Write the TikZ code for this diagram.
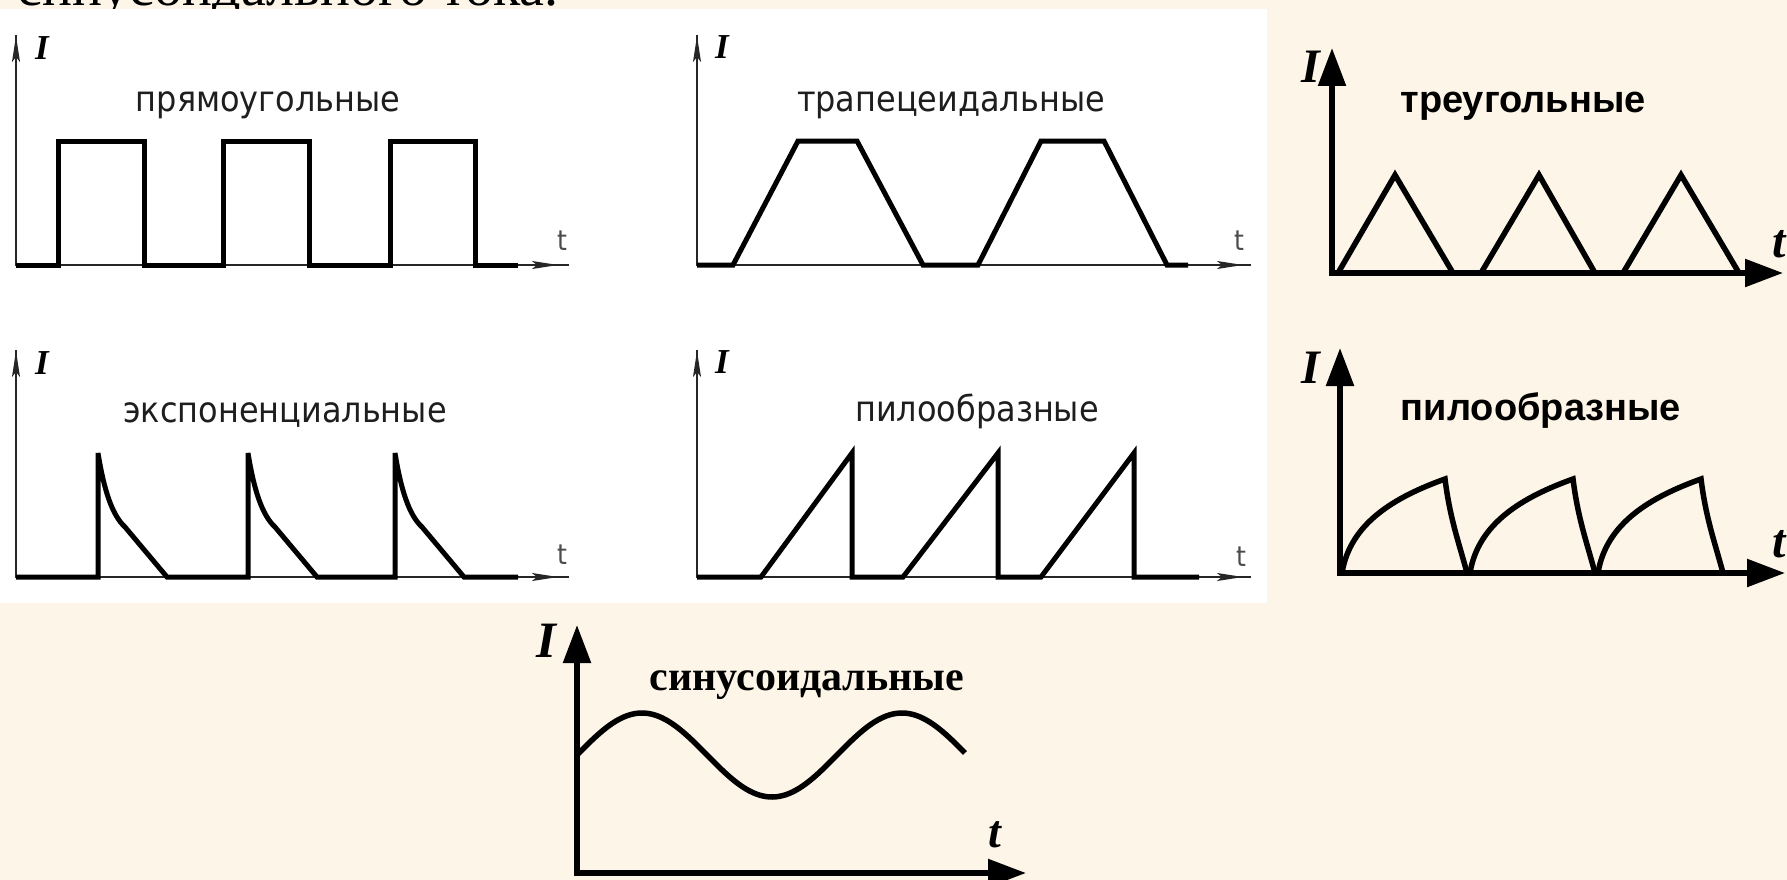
\documentclass[tikz,border=0pt]{standalone}
\usepackage{fontspec}
\setmainfont{Liberation Serif}
\newfontfamily\lsans[FakeStretch=0.9]{DejaVu Sans}
\newfontfamily\rsans{Liberation Sans}
\usetikzlibrary{arrows.meta}
\definecolor{bgcream}{RGB}{253,245,231}
\definecolor{labelgray}{RGB}{30,30,30}
\newcommand{\fsz}[1]{\fontsize{#1}{#1}\selectfont}
\begin{document}
\begin{tikzpicture}[x=1pt,y=-1pt,
  thinaxis/.style={line width=1.6pt,black!85},
  thinarrow/.style={thinaxis,arrows={-Stealth[length=26pt,width=8pt,inset=5pt]}},
  thickwave/.style={line width=5pt,black,line join=miter,line cap=butt},
  raxis/.style={line width=5.5pt,black,line join=miter,arrows={Triangle[length=38pt,width=27pt]-Triangle[length=38pt,width=27pt]}},
  rwave/.style={line width=5.5pt,black,line join=miter,line cap=butt},
  ltitle/.style={font=\lsans\fsz{35.5},text=labelgray,anchor=base,inner sep=0pt},
  lI/.style={font=\bfseries\itshape\fsz{35},anchor=base,inner sep=0pt},
  lt/.style={font=\lsans\fsz{28},text=black!70,anchor=base,inner sep=0pt},
  rtitle/.style={font=\rsans\bfseries\fsz{38},anchor=base,inner sep=0pt},
  rI/.style={font=\bfseries\itshape\fsz{48},anchor=base,inner sep=0pt},
]
\useasboundingbox (0,0) rectangle (1787,880);
\clip (0,0) rectangle (1787,880);
\fill[bgcream] (0,0) rectangle (1787,880);

% cut-off line of text at the very top
\node[font=\fsz{56},anchor=base west,inner sep=0pt] (toptext) at (17,6) {синусоидального тока.};

% white panel with four small plots
\fill[white] (0,9) rectangle (1267,603);

% ---- panel 1: rectangular
\draw[thinaxis] (16,35) -- (16,265) -- (569,265);
\draw[thinarrow] (16,110) -- (16,36);
\draw[thinarrow] (500,265) -- (558,265);
\draw[thickwave] (16,265) -- (58,265) -- (58,141) -- (144,141) -- (144,265) -- (223,265) -- (223,141) -- (309,141) -- (309,265) -- (390,265) -- (390,141) -- (475,141) -- (475,265) -- (518,265);
\node[lI] (i1) at (42,60) {I};
\node[lt] (t1) at (562,250) {t};
\node[ltitle] (n1) at (268,112) {прямоугольные};

% ---- panel 2: trapezoidal
\draw[thinaxis] (697,35) -- (697,265) -- (1251,265);
\draw[thinarrow] (697,110) -- (697,36);
\draw[thinarrow] (1180,265) -- (1243,265);
\draw[thickwave] (697,265) -- (733,265) -- (798,141) -- (857,141) -- (923,265) -- (978,265) -- (1041,141) -- (1104,141) -- (1167,265) -- (1188,265);
\node[lI] (i2) at (722,59) {I};
\node[lt] (t2) at (1239,250) {t};
\node[ltitle] (n2) at (951,112) {трапецеидальные};

% ---- panel 3: exponential
\draw[thinaxis] (16,350) -- (16,577) -- (569,577);
\draw[thinarrow] (16,425) -- (16,351);
\draw[thinarrow] (500,577) -- (558,577);
\draw[thickwave] (16,577) -- (98,577) -- ++(0,-124) .. controls +(6,37) and +(-13,-12) .. ++(27,74) -- ++(42,50)
  -- (248,577) -- ++(0,-124) .. controls +(6,37) and +(-13,-12) .. ++(27,74) -- ++(42,50)
  -- (395,577) -- ++(0,-124) .. controls +(6,37) and +(-13,-12) .. ++(27,74) -- ++(42,50)
  -- (518,577);
\node[lI] (i3) at (42,374) {I};
\node[lt] (t3) at (562,564) {t};
\node[ltitle] (n3) at (285,422) {экспоненциальные};

% ---- panel 4: sawtooth
\draw[thinaxis] (697,350) -- (697,577) -- (1251,577);
\draw[thinarrow] (697,425) -- (697,351);
\draw[thinarrow] (1180,577) -- (1243,577);
\draw[thickwave] (697,577) -- (761,577) -- (852,453) -- (852,577) -- (903,577) -- (998,453) -- (998,577) -- (1041,577) -- (1134,453) -- (1134,577) -- (1199,577);
\node[lI] (i4) at (722,373) {I};
\node[lt] (t4) at (1241,566) {t};
\node[ltitle] (n4) at (977,421) {пилообразные};

% ---- right top: triangles
\draw[raxis] (1332,48) -- (1332,273) -- (1783,273);
\draw[rwave] (1338,273) -- (1395,175) -- (1453,273);
\draw[rwave] (1481,273) -- (1539,175) -- (1595,273);
\draw[rwave] (1623,273) -- (1681,175) -- (1739,273);
\node[rI] (i5) at (1311,83) {I};
\node[rI] (t5) at (1779,257) {t};
\node[rtitle] (n5) at (1523,113) {треугольные};

% ---- right middle: saw with curved ramps
\draw[raxis] (1340,348) -- (1340,573) -- (1785,573);
\foreach \s in {1342,1470,1598}{
  \draw[rwave] (\s,573) .. controls +(8,-50) and +(-50,18) .. ++(103,-94)
     .. controls +(5,40) and +(-8,-30) .. ++(22,94);
}
\node[rI] (i6) at (1311,383) {I};
\node[rI] (t6) at (1779,557) {t};
\node[rtitle] (n6) at (1541,420) {пилообразные};

% ---- bottom: sinusoidal
\draw[raxis] (577,625) -- (577,873) -- (1026,873);
\draw[rwave,domain=0:388,samples=120,smooth] plot ({577+\x},{755-42*sin(1.3846154*\x)});
\node[rI,font=\bfseries\itshape\fsz{51}] (i7) at (546,657) {I};
\node[rI,font=\bfseries\itshape\fsz{46}] (t7) at (995,847) {t};
\node[font=\bfseries\fsz{42},anchor=base,inner sep=0pt] (n7) at (807,690) {синусоидальные};
\end{tikzpicture}
\end{document}
